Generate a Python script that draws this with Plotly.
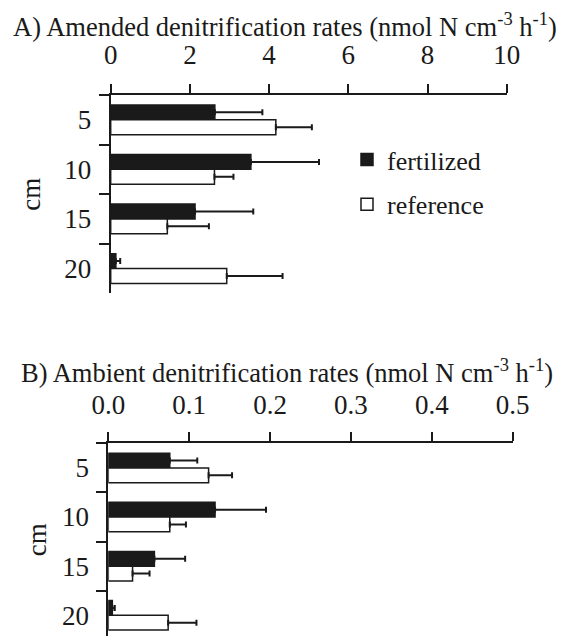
import plotly.graph_objects as go

depths = ["5", "10", "15", "20"]
series_names = ["fertilized", "reference"]

# Panel A: amended denitrification rates
amended_fert = [2.63, 3.54, 2.13, 0.13]
amended_fert_err = [1.20, 1.72, 1.47, 0.11]
amended_ref = [4.17, 2.62, 1.43, 2.93]
amended_ref_err = [0.91, 0.48, 1.05, 1.41]

# Panel B: ambient denitrification rates
ambient_fert = [0.076, 0.132, 0.057, 0.005]
ambient_fert_err = [0.034, 0.063, 0.038, 0.003]
ambient_ref = [0.124, 0.076, 0.030, 0.074]
ambient_ref_err = [0.029, 0.020, 0.021, 0.035]

a_ticks = [0, 2, 4, 6, 8, 10]
b_ticks = [0.0, 0.1, 0.2, 0.3, 0.4, 0.5]

FONT = "Liberation Serif"
BLACK = "#1a1a1a"
W, H = 567, 636

fig = go.Figure()

def add_pair(fert, fert_err, ref, ref_err, xa, ya, show):
    fig.add_trace(go.Bar(
        y=depths, x=fert, orientation="h", name=series_names[0],
        marker=dict(color=BLACK, line=dict(color=BLACK, width=1.5)),
        error_x=dict(type="data", array=fert_err, arrayminus=[0] * len(fert),
                     symmetric=False, color=BLACK, thickness=2, width=3),
        xaxis=xa, yaxis=ya, showlegend=show, legendgroup="f"))
    fig.add_trace(go.Bar(
        y=depths, x=ref, orientation="h", name=series_names[1],
        marker=dict(color="white", line=dict(color=BLACK, width=1.5)),
        error_x=dict(type="data", array=ref_err, arrayminus=[0] * len(ref),
                     symmetric=False, color=BLACK, thickness=2, width=3),
        xaxis=xa, yaxis=ya, showlegend=show, legendgroup="r"))

add_pair(amended_fert, amended_fert_err, amended_ref, amended_ref_err, "x", "y", True)
add_pair(ambient_fert, ambient_fert_err, ambient_ref, ambient_ref_err, "x2", "y2", False)

axis_common = dict(showline=True, linewidth=2, linecolor=BLACK, ticks="outside",
                   tickwidth=2, tickcolor=BLACK, showgrid=False, zeroline=False,
                   automargin=False,
                   tickfont=dict(family=FONT, size=27, color=BLACK))
cm_font = dict(family=FONT, size=27, color=BLACK)

fig.update_layout(
    width=W, height=H, margin=dict(l=0, r=0, t=0, b=0, autoexpand=False),
    paper_bgcolor="white", plot_bgcolor="white",
    barmode="group", bargap=0.4, bargroupgap=0,
    font=dict(family=FONT, color=BLACK),
    xaxis=dict(domain=[110.7 / W, 506.7 / W], anchor="y", side="top",
               range=[0, 10], tickvals=a_ticks, ticklen=9, ticklabelstandoff=9,
               **axis_common),
    yaxis=dict(domain=[1 - 293.3 / H, 1 - 95 / H], anchor="x", type="category",
               categoryorder="array", categoryarray=depths, range=[3.5, -0.5],
               tickson="boundaries", ticklen=10, ticklabelstandoff=12,
               title=dict(text="cm", font=cm_font, standoff=16),
               **axis_common),
    xaxis2=dict(domain=[108.3 / W, 512.7 / W], anchor="y2", side="top",
                range=[0, 0.5], tickvals=b_ticks, tickformat=".1f", ticklen=9,
                ticklabelstandoff=8, **axis_common),
    yaxis2=dict(domain=[0, 1 - 443.3 / H], anchor="x2", type="category",
                categoryorder="array", categoryarray=depths, range=[3.42, -0.5],
                tickson="boundaries", ticklen=10, ticklabelstandoff=12,
                title=dict(text="cm", font=cm_font, standoff=7),
                **axis_common),
    legend=dict(x=347 / W, y=1 - 136 / H, xanchor="left", yanchor="top",
                font=dict(family=FONT, size=26, color=BLACK),
                bgcolor="rgba(0,0,0,0)", traceorder="grouped", tracegroupgap=8),
    annotations=[
        dict(text="A) Amended denitrification rates (nmol N cm<sup>-3</sup> h<sup>-1</sup>)",
             x=285 / W, y=1 - 25 / H, xref="paper", yref="paper",
             xanchor="center", yanchor="middle", showarrow=False,
             font=dict(family=FONT, size=26.5, color=BLACK)),
        dict(text="B) Ambient denitrification rates (nmol N cm<sup>-3</sup> h<sup>-1</sup>)",
             x=287 / W, y=1 - 371 / H, xref="paper", yref="paper",
             xanchor="center", yanchor="middle", showarrow=False,
             font=dict(family=FONT, size=26.5, color=BLACK)),
    ],
)

fig.write_html("out.html", config={"displayModeBar": False},
               post_script="document.body.style.margin='0';")
